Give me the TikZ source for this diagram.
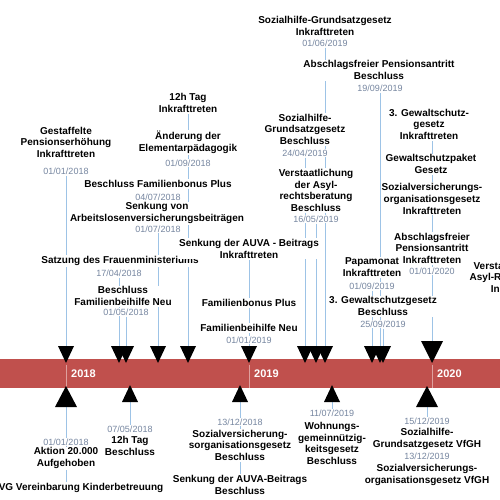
\documentclass[tikz,border=0pt]{standalone}
\usepackage{fontspec}
\setmainfont{Liberation Sans}
\usetikzlibrary{arrows.meta, positioning, calc, backgrounds}
\definecolor{bandred}{RGB}{192,80,77}
\definecolor{connblue}{RGB}{157,195,230}
\definecolor{dategray}{RGB}{118,134,160}
\definecolor{ticklight}{RGB}{222,160,158}

\begin{document}
\begin{tikzpicture}[
    x=1pt, y=-1pt,
    conn/.style={connblue, line width=0.9pt}, % 连线:浅蓝细线
    band/.style={fill=bandred},               % 时间轴色带
    yrtick/.style={ticklight, line width=0.8pt},
    yr/.style={anchor=west, text=white, inner sep=0pt, font=\bfseries\fontsize{11}{13}\selectfont},
    ttl/.style={anchor=base, align=center, fill=white, inner sep=1pt, font=\bfseries\fontsize{10}{11.8}\selectfont},
    dat/.style={anchor=base, fill=white, inner sep=1pt, text=dategray, font=\fontsize{9}{10}\selectfont}
]
    \useasboundingbox (0,0) rectangle (500,500);
    \clip (0,0) rectangle (500,500);

    % 1. 时间轴色带与年份
    \fill[band] (-5,359) rectangle (505,388);
    \foreach \x/\n in {66/2018,249/2019,432/2020} {
        \draw[yrtick] (\x,365) -- (\x,388);
        \node[yr] (y\n) at (\x+5,374) {\n};
    }

    % 2. 上方三角(向下)
    \foreach \x/\n in {66/d1,119/d2,126/d3,158/d4,188/d5,249/d6,305/d7,316/d8,325/d9,372/d10,380/d11,383/d12} {
        \coordinate (\n) at (\x,346);
        \fill (\x-8,346) -- (\x+8,346) -- (\x,363) -- cycle;
    }
    \coordinate (d13) at (432,341);
    \fill (421,341) -- (443,341) -- (432,363) -- cycle;

    % 3. 下方三角(向上)
    \foreach \x/\n in {130/u2,240/u3,332/u4} {
        \coordinate (\n) at (\x,402);
        \fill (\x-8,402) -- (\x+8,402) -- (\x,385) -- cycle;
    }
    \foreach \x/\n in {66/u1,427/u5} {
        \coordinate (\n) at (\x,407);
        \fill (\x-11,407) -- (\x+11,407) -- (\x,386) -- cycle;
    }

    % 4. 上方事件 2018
    \node[ttl] (gpe) at (66,157.7) {Gestaffelte\\Pensionserhöhung\\Inkrafttreten};
    \node[dat] (gped) at (66,174.3) {01/01/2018};
    \node[ttl] (h12i) at (188,112.7) {12h Tag\\Inkrafttreten};
    \node[ttl] (elem) at (188,151.7) {Änderung der\\Elementarpädagogik};
    \node[dat] (elemd) at (188,166.3) {01/09/2018};
    \node[ttl] (fbp) at (158,187.7) {Beschluss Familienbonus Plus};
    \node[dat] (fbpd) at (158,200.3) {04/07/2018};
    \node[ttl] (alv) at (157,221.7) {Senkung von\\Arbeitslosenversicherungsbeiträgen};
    \node[dat] (alvd) at (158,232.3) {01/07/2018};
    \node[ttl] (sat) at (120,263.7) {Satzung des Frauenministeriums};
    \node[dat] (satd) at (119,276.3) {17/04/2018};
    \node[ttl] (fbn) at (123,305.7) {Beschluss\\Familienbeihilfe Neu};
    \node[dat] (fbnd) at (126,315.3) {01/05/2018};

    % 5. 上方事件 2020
    \node[ttl] (gsi) at (429,139.7) {3. Gewaltschutz-\\gesetz\\Inkrafttreten};
    \node[ttl] (gsp) at (431,173.7) {Gewaltschutzpaket\\Gesetz};
    \node[ttl] (svi) at (432,214.2) {Sozialversicherungs-\\organisationsgesetz\\Inkrafttreten};
    \node[ttl] (abi) at (432,263.7) {Abschlagsfreier\\Pensionsantritt\\Inkrafttreten};
    \node[dat] (abid) at (432,274.3) {01/01/2020};
    \node[ttl] (vai) at (520,292.7) {Verstaatlichung der\\Asyl-Rechtsberatung\\Inkrafttreten};

    % 6. 上方事件 2019
    \node[ttl] (auva) at (249,258.2) {Senkung der AUVA - Beitrags\\Inkrafttreten};
    \node[ttl] (fbo) at (249,306.7) {Familienbonus Plus};
    \node[ttl] (fbh) at (249,331.7) {Familienbeihilfe Neu};
    \node[dat] (fbhd) at (249,343.3) {01/01/2019};
    \node[ttl] (shi) at (325,35.7) {Sozialhilfe-Grundsatzgesetz\\Inkrafttreten};
    \node[dat] (shid) at (325,46.3) {01/06/2019};
    \node[ttl] (abb) at (379,79.7) {Abschlagsfreier Pensionsantritt\\Beschluss};
    \node[dat] (abbd) at (380,91.3) {19/09/2019};
    \node[ttl] (shb) at (305,144.7) {Sozialhilfe-\\Grundsatzgesetz\\Beschluss};
    \node[dat] (shbd) at (305,156.3) {24/04/2019};
    \node[ttl] (vas) at (316,211.7) {Verstaatlichung\\der Asyl-\\rechtsberatung\\Beschluss};
    \node[dat] (vasd) at (316,222.3) {16/05/2019};
    \node[ttl] (pap) at (372,276.7) {Papamonat\\Inkrafttreten};
    \node[dat] (papd) at (372,289.3) {01/09/2019};
    \node[ttl] (gsb) at (383,315.7) {3. Gewaltschutzgesetz\\Beschluss};
    \node[dat] (gsbd) at (383,327.3) {25/09/2019};

    % 7. 下方事件
    \node[dat] (akd) at (66,445.3) {01/01/2018};
    \node[ttl] (akt) at (66,466.7) {Aktion 20.000\\Aufgehoben};
    \node[ttl] (kb) at (66,490.7) {15a B-VG Vereinbarung Kinderbetreuung};
    \node[dat] (h12d) at (130,432.3) {07/05/2018};
    \node[ttl] (h12b) at (130,455.7) {12h Tag\\Beschluss};
    \node[dat] (svbd) at (240,425.3) {13/12/2018};
    \node[ttl] (svb) at (240,460.7) {Sozialversicherung-\\sorganisationsgesetz\\Beschluss};
    \node[ttl] (auvb) at (240,494.7) {Senkung der AUVA-Beitrags\\Beschluss};
    \node[dat] (wgd) at (332,416.3) {11/07/2019};
    \node[ttl] (wg) at (332,464.7) {Wohnungs-\\gemeinnützig-\\keitsgesetz\\Beschluss};
    \node[dat] (shvd) at (427,424.3) {15/12/2019};
    \node[ttl] (shv) at (427,447.2) {Sozialhilfe-\\Grundsatzgesetz VfGH};
    \node[dat] (svvd) at (427,459.3) {13/12/2019};
    \node[ttl] (svv) at (427,483.7) {Sozialversicherungs-\\organisationsgesetz VfGH};

    % 8. 连线(置于背景层,被文字遮挡)
    \begin{scope}[on background layer]
        \fill[white] (0,0) rectangle (500,500);
        \draw[conn] (gped) -- (d1);
        \draw[conn] (satd) -- (d2);
        \draw[conn] (fbnd) -- (d3);
        \draw[conn] (fbpd) -- (d4);
        \draw[conn] (alvd) -- (d4);
        \draw[conn] (h12i) -- (d5);
        \draw[conn] (auva) -- (d6);
        \draw[conn] (shbd) -- (d7);
        \draw[conn] (vasd) -- (d8);
        \draw[conn] (shid) -- (d9);
        \draw[conn] (papd) -- (d10);
        \draw[conn] (abbd) -- (d11);
        \draw[conn] (gsbd) -- (d12);
        \draw[conn] (gsi.south -| d13) -- (d13);
        \draw[conn] (u1) -- (kb);
        \draw[conn] (u2) -- (h12d);
        \draw[conn] (u3) -- (auvb);
        \draw[conn] (u4) -- (wgd);
        \draw[conn] (u5) -- (shvd);
    \end{scope}
\end{tikzpicture}
\end{document}
